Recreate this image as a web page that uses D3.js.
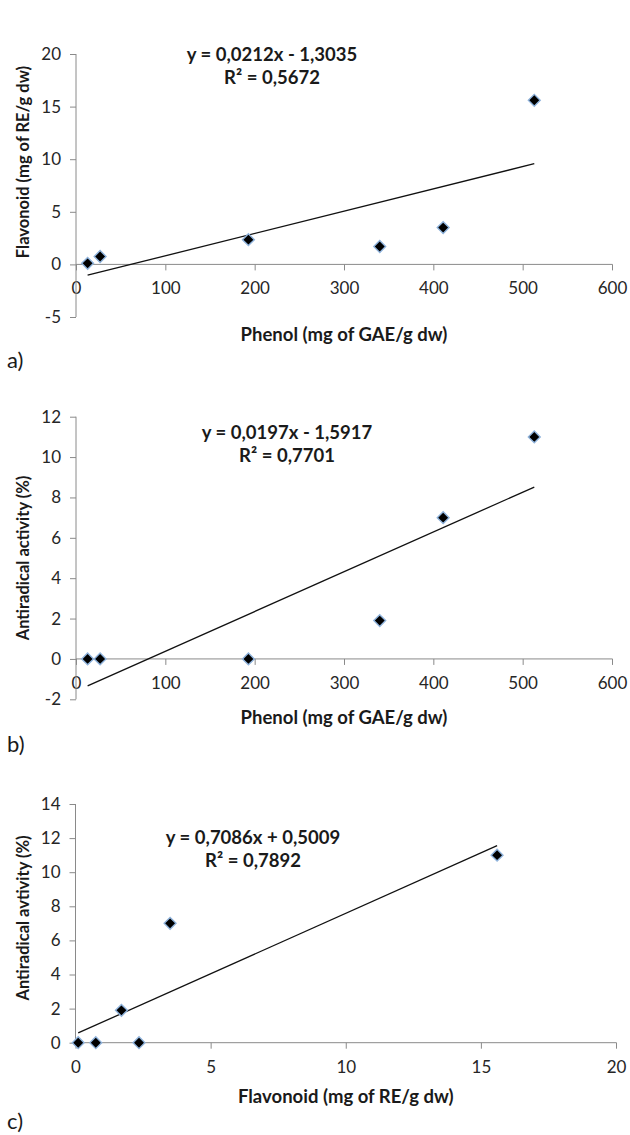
<!DOCTYPE html>
<html>
<head>
<meta charset="utf-8">
<script src="https://cdn.jsdelivr.net/npm/d3@7"></script>
<style>
  body { margin: 0; background: #fff; }
  svg { display: block; font-family: Lato, "Open Sans", sans-serif; }
  .tick-label { font-size: 17px; fill: #262626; }
  .axis-title { font-size: 18.5px; font-weight: bold; fill: #1a1a1a; }
  .axis-title.y { font-size: 16.5px; }
  .eq { font-size: 18.5px; font-weight: bold; fill: #1a1a1a; }
  .panel-letter { font-size: 22px; fill: #1a1a1a; }
</style>
</head>
<body>
<svg id="chart" width="630" height="1135"></svg>
<script>

// samples
const phenol = [13, 27, 193, 340, 411, 513];
const flavonoid = [0.1, 0.75, 2.35, 1.7, 3.5, 15.6];
const antiradical = [0, 0, 0, 1.9, 7.0, 11.0];

// trend line coefficients, as printed on each panel
const slopes = [0.0212, 0.0197, 0.7086];
const intercepts = [-1.3035, -1.5917, 0.5009];
const equations = ['y = 0,0212x - 1,3035', 'y = 0,0197x - 1,5917', 'y = 0,7086x + 0,5009'];
const r2Labels = ['R² = 0,5672', 'R² = 0,7701', 'R² = 0,7892'];

const panelLetters = ['a)', 'b)', 'c)'];
const xTitles = ['Phenol (mg of GAE/g dw)', 'Phenol (mg of GAE/g dw)', 'Flavonoid (mg of RE/g dw)'];
const yTitles = ['Flavonoid (mg of RE/g dw)', 'Antiradical activity (%)', 'Antiradical avtivity (%)'];

const xTicksPhenol = [0, 100, 200, 300, 400, 500, 600];
const xTicksFlav = [0, 5, 10, 15, 20];
const yTicksA = [-5, 0, 5, 10, 15, 20];
const yTicksB = [-2, 0, 2, 4, 6, 8, 10, 12];
const yTicksC = [0, 2, 4, 6, 8, 10, 12, 14];

const svg = d3.select('#chart');
const axisColor = '#8a8a8a';


function drawPanel(p) {

  const x = d3.scaleLinear().domain(p.xDomain).range(p.xRange);
  const y = d3.scaleLinear().domain(p.yDomain).range(p.yRange);
  const g = svg.append('g');

  // plain hyphen for negatives, like the original
  const fmt = function(d) { return String(d); };

  // y axis, ticks outside
  const yAxis = g.append('g')
    .attr('transform', 'translate(' + x(0) + ',0)')
    .call(d3.axisLeft(y).tickValues(p.yTicks).tickSize(6).tickPadding(9).tickFormat(fmt));

  // x axis sits on y = 0
  const xAxis = g.append('g')
    .attr('transform', 'translate(0,' + y(0) + ')')
    .call(d3.axisBottom(x).tickValues(p.xTicks).tickSize(6).tickPadding(p.xPad).tickFormat(fmt));

  [xAxis, yAxis].forEach(function(a) {
    a.select('.domain').remove();
    a.selectAll('.tick line').attr('stroke', axisColor);
    a.selectAll('.tick text').attr('class', 'tick-label').attr('fill', null);
    a.attr('font-family', null).attr('font-size', null);
  });
  g.append('line')
    .attr('x1', x(0)).attr('x2', x(0))
    .attr('y1', y(p.yDomain[0])).attr('y2', y(p.yDomain[1]))
    .attr('stroke', axisColor);
  g.append('line')
    .attr('x1', x(p.xDomain[0])).attr('x2', x(p.xDomain[1]) + 0.5)
    .attr('y1', y(0)).attr('y2', y(0))
    .attr('stroke', axisColor);

  // linear trend line over the data extent
  const ext = d3.extent(p.xs);
  g.append('line')
    .attr('x1', x(ext[0])).attr('y1', y(p.slope * ext[0] + p.intercept))
    .attr('x2', x(ext[1])).attr('y2', y(p.slope * ext[1] + p.intercept))
    .attr('stroke', '#111')
    .attr('stroke-width', 1.3);

  // diamond markers
  const diamond = d3.symbol().type(d3.symbolSquare).size(70);
  g.selectAll('path.pt')
    .data(p.xs.map(function(v, i) { return [v, p.ys[i]]; }))
    .enter()
    .append('path')
    .attr('class', 'pt')
    .attr('d', diamond)
    .attr('transform', function(d) {
      return 'translate(' + x(d[0]) + ',' + y(d[1]) + ') rotate(45)';
    })
    .attr('fill', '#000')
    .attr('stroke', '#8fb3dc')
    .attr('stroke-width', 1.4);

  // equation and R²
  g.append('text').attr('class', 'eq')
    .attr('x', p.eqX).attr('y', p.eqY)
    .attr('text-anchor', 'middle')
    .text(p.equation);
  g.append('text').attr('class', 'eq')
    .attr('x', p.eqX).attr('y', p.eqY + 23)
    .attr('text-anchor', 'middle')
    .text(p.r2);

  // titles
  g.append('text').attr('class', 'axis-title')
    .attr('x', (p.xRange[0] + p.xRange[1]) / 2)
    .attr('y', p.xTitleY)
    .attr('text-anchor', 'middle')
    .text(p.xTitle);
  g.append('text').attr('class', 'axis-title y')
    .attr('transform', 'translate(29,' + p.yTitleY + ') rotate(-90)')
    .attr('text-anchor', 'middle')
    .text(p.yTitle);

  g.append('text').attr('class', 'panel-letter')
    .attr('x', 7).attr('y', p.letterY)
    .text(p.letter);
}


drawPanel({
  xs: phenol, ys: flavonoid,
  xDomain: [0, 600], xRange: [76, 612],
  yDomain: [-5, 20], yRange: [317, 54],
  xTicks: xTicksPhenol, yTicks: yTicksA, xPad: 12,
  slope: slopes[0], intercept: intercepts[0],
  equation: equations[0], r2: r2Labels[0], eqX: 272, eqY: 61,
  xTitle: xTitles[0], xTitleY: 341, yTitle: yTitles[0], yTitleY: 162,
  letter: panelLetters[0], letterY: 368
});

drawPanel({
  xs: phenol, ys: antiradical,
  xDomain: [0, 600], xRange: [76, 612],
  yDomain: [-2, 12], yRange: [699.3, 416.7],
  xTicks: xTicksPhenol, yTicks: yTicksB, xPad: 12,
  slope: slopes[1], intercept: intercepts[1],
  equation: equations[1], r2: r2Labels[1], eqX: 287, eqY: 439,
  xTitle: xTitles[1], xTitleY: 724, yTitle: yTitles[1], yTitleY: 558,
  letter: panelLetters[1], letterY: 752
});

drawPanel({
  xs: flavonoid, ys: antiradical,
  xDomain: [0, 20], xRange: [75.5, 616],
  yDomain: [0, 14], yRange: [1042.7, 804],
  xTicks: xTicksFlav, yTicks: yTicksC, xPad: 12,
  slope: slopes[2], intercept: intercepts[2],
  equation: equations[2], r2: r2Labels[2], eqX: 253, eqY: 844,
  xTitle: xTitles[2], xTitleY: 1103, yTitle: yTitles[2], yTitleY: 918,
  letter: panelLetters[2], letterY: 1129
});

</script>
</body>
</html>
